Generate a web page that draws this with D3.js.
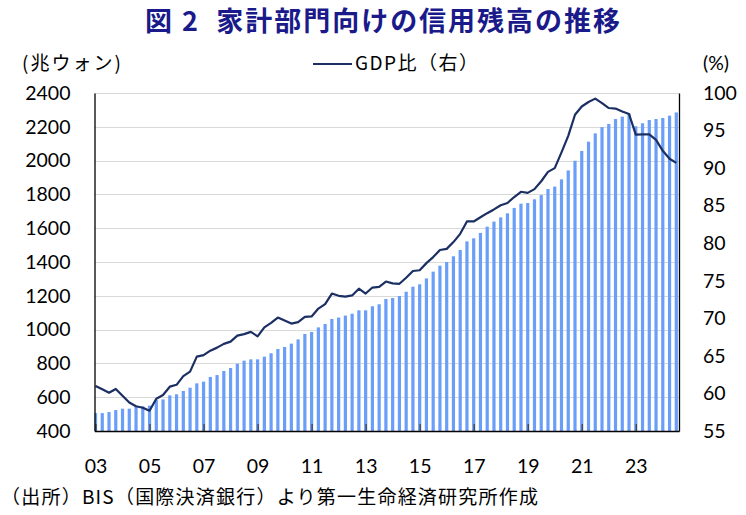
<!DOCTYPE html>
<html>
<head>
<meta charset="utf-8">
<script src="https://cdn.jsdelivr.net/npm/d3@7"></script>
<style>
  body { margin: 0; background: #fff; }
  svg text { font-family: Lato, "Noto Sans CJK JP", sans-serif; }
  .jp { font-family: "Noto Sans CJK JP", sans-serif; }
</style>
</head>
<body>
<div id="chart-area"></div>
<script>
// quarterly data, 2003Q1 .. 2024Q3
const credit = [506, 506, 512, 524, 532, 532, 544, 546, 550, 583, 587, 611, 617, 637, 656, 682,
  692, 720, 731, 755, 773, 798, 816, 824, 824, 840, 860, 885, 897, 917, 942, 974,
  986, 1013, 1033, 1063, 1071, 1083, 1094, 1114, 1114, 1138, 1150, 1181, 1187, 1199, 1224, 1254,
  1268, 1303, 1343, 1378, 1400, 1434, 1471, 1522, 1540, 1572, 1609, 1639, 1664, 1688, 1720, 1745,
  1749, 1771, 1796, 1832, 1846, 1889, 1942, 1999, 2057, 2112, 2161, 2198, 2217, 2246, 2260, 2278,
  2203, 2221, 2240, 2246, 2252, 2266, 2285]
const gdpRatio = [61.0, 60.55, 60.1, 60.6, 59.7, 58.8, 58.3, 58.1, 57.7, 59.3, 59.8, 60.9, 61.15, 62.3, 62.9, 64.9,
  65.1, 65.7, 66.1, 66.6, 66.9, 67.7, 67.9, 68.2, 67.6, 68.8, 69.4, 70.1, 69.7, 69.3, 69.5, 70.2,
  70.25, 71.3, 71.9, 73.3, 73.0, 72.9, 73.05, 73.95, 73.3, 74.1, 74.2, 74.9, 74.65, 74.6, 75.4, 76.3,
  76.4, 77.35, 78.15, 79.1, 79.25, 80.15, 81.25, 82.9, 82.9, 83.45, 84.0, 84.5, 85.05, 85.35, 86.15, 86.85,
  86.7, 87.2, 88.25, 89.5, 90.0, 92.1, 94.3, 97.1, 98.2, 98.8, 99.25, 98.65, 98.0, 97.93, 97.55, 97.2,
  94.45, 94.5, 94.5, 93.75, 92.3, 91.25, 90.7]
const yearLabels = ["03", "05", "07", "09", "11", "13", "15", "17", "19", "21", "23"]
const leftTicks = [400, 600, 800, 1000, 1200, 1400, 1600, 1800, 2000, 2200, 2400]
const rightTicks = [55, 60, 65, 70, 75, 80, 85, 90, 95, 100]

const W = 746, H = 515
const PLOT = { LEFT: 94.5, RIGHT: 679, TOP: 93, BOTTOM: 431 }

const svg = d3.select("#chart-area").append("svg")
  .attr("width", W)
  .attr("height", H)

// SCALES
const x = d3.scaleLinear()
  .domain([-0.15, 86.4])
  .range([PLOT.LEFT, PLOT.RIGHT])
const yL = d3.scaleLinear()
  .domain([400, 2400])
  .range([PLOT.BOTTOM, PLOT.TOP])
const yR = d3.scaleLinear()
  .domain([55, 100])
  .range([PLOT.BOTTOM, PLOT.TOP])

// GRID
svg.append("g")
  .selectAll("line")
  .data(leftTicks.slice(1))
  .enter().append("line")
    .attr("x1", PLOT.LEFT).attr("x2", PLOT.RIGHT)
    .attr("y1", d => Math.round(yL(d)) + 0.5).attr("y2", d => Math.round(yL(d)) + 0.5)
    .attr("stroke", "#d9d9d9")
    .attr("stroke-width", 1)

// BARS
const bw = 3.2
svg.append("g")
  .selectAll("rect")
  .data(credit)
  .enter().append("rect")
    .attr("x", (d, i) => Math.max(PLOT.LEFT, x(i) - bw / 2))
    .attr("width", (d, i) => x(i) - bw / 2 < PLOT.LEFT ? x(i) + bw / 2 - PLOT.LEFT : bw)
    .attr("y", d => yL(d))
    .attr("height", d => PLOT.BOTTOM - yL(d))
    .attr("fill", "#6a9ef8")

// LINE
const line = d3.line()
  .x((d, i) => x(i))
  .y(d => yR(d))
svg.append("path")
  .datum(gdpRatio)
  .attr("d", line)
  .attr("fill", "none")
  .attr("stroke", "#1b2f63")
  .attr("stroke-width", 2.2)
  .attr("stroke-linejoin", "round")

// AXES
const xAxisCall = d3.axisBottom(x)
  .tickValues(d3.range(0, 81, 8))
  .tickSizeInner(-7)
  .tickSizeOuter(0)
  .tickPadding(28)
  .tickFormat((d, i) => yearLabels[i])
const xAxis = svg.append("g")
  .attr("transform", `translate(0, ${PLOT.BOTTOM})`)
  .call(xAxisCall)
xAxis.select(".domain").attr("stroke", "#000").attr("stroke-width", 1.3)
xAxis.selectAll(".tick line").attr("stroke", "#404040").attr("stroke-width", 1.3)
xAxis.selectAll("text").attr("font-size", "19.5px").attr("fill", "#000")
  .attr("font-family", "Lato, sans-serif")

const yAxisCall = d3.axisLeft(yL)
  .tickValues(leftTicks)
  .tickSize(0)
  .tickPadding(24)
  .tickFormat(d3.format("d"))
const yAxis = svg.append("g")
  .attr("transform", `translate(${PLOT.LEFT}, 0)`)
  .call(yAxisCall)
yAxis.select(".domain").attr("stroke", "#000").attr("stroke-width", 1.3)
yAxis.selectAll("text").attr("font-size", "19.5px").attr("fill", "#000")
  .attr("font-family", "Lato, sans-serif")

const y2AxisCall = d3.axisRight(yR)
  .tickValues(rightTicks)
  .tickSize(0)
  .tickPadding(24)
const y2Axis = svg.append("g")
  .attr("transform", `translate(${PLOT.RIGHT}, 0)`)
  .call(y2AxisCall)
y2Axis.select(".domain").attr("stroke", "#000").attr("stroke-width", 1.3)
y2Axis.selectAll("text").attr("font-size", "19.5px").attr("fill", "#000")
  .attr("font-family", "Lato, sans-serif")

// LABELS
svg.append("text")
  .attr("class", "jp")
  .attr("x", 145)
  .attr("y", 31)
  .attr("font-size", "27px")
  .attr("font-weight", "bold")
  .attr("fill", "#1a1a8a")
  .attr("textLength", 475)
  .attr("lengthAdjust", "spacing")
  .text("図\u00a02\u00a0\u00a0家計部門向けの信用残高の推移")

svg.append("text")
  .attr("class", "jp")
  .attr("x", 22)
  .attr("y", 70)
  .attr("font-size", "19px")
  .attr("fill", "#000")
  .attr("textLength", 99)
  .attr("lengthAdjust", "spacing")
  .text("(兆ウォン)")

svg.append("text")
  .attr("x", 703)
  .attr("y", 70)
  .attr("font-size", "19.5px")
  .attr("fill", "#000")
  .text("(%)")

svg.append("line")
  .attr("x1", 313).attr("x2", 352)
  .attr("y1", 64).attr("y2", 64)
  .attr("stroke", "#1b2f63")
  .attr("stroke-width", 2.2)
svg.append("text")
  .attr("class", "jp")
  .attr("x", 355)
  .attr("y", 70)
  .attr("font-size", "19px")
  .attr("fill", "#000")
  .attr("textLength", 123)
  .attr("lengthAdjust", "spacing")
  .text("GDP比（右）")

svg.append("text")
  .attr("class", "jp")
  .attr("x", 1)
  .attr("y", 504)
  .attr("font-size", "19px")
  .attr("fill", "#000")
  .attr("textLength", 537)
  .attr("lengthAdjust", "spacing")
  .text("（出所）BIS（国際決済銀行）より第一生命経済研究所作成")
</script>
</body>
</html>
